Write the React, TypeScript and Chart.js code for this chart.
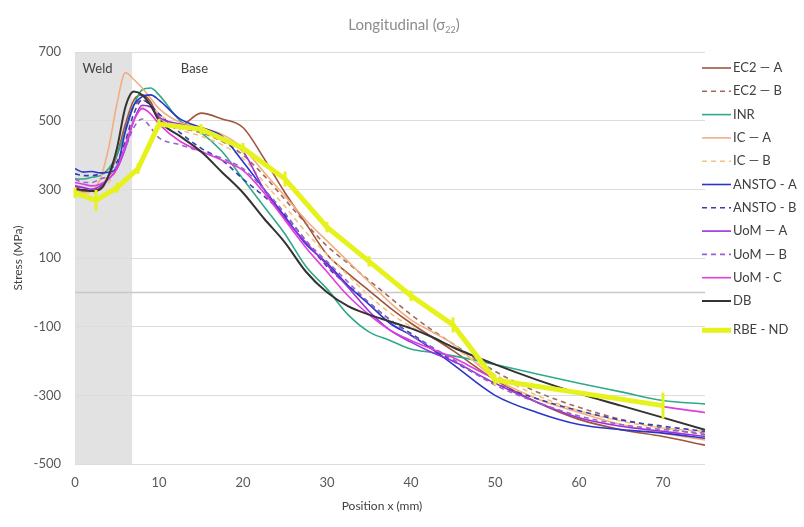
import { useEffect, useRef } from "react";
import { Chart, registerables } from "chart.js";

Chart.register(...registerables);

// Shared sampling positions (mm) for the model/measurement curves
const positions = [0, 1, 2, 3, 4, 5, 6, 7, 8, 9, 10, 12.5, 15, 17.5, 20, 22.5, 25, 27.5, 30, 32.5, 35, 37.5, 40, 42.5, 45, 50, 55, 60, 65, 70, 75];

// Longitudinal stress (MPa) at each position
const ec2A = [310, 292, 295, 305, 340, 400, 490, 560, 575, 555, 505, 485, 522, 505, 480, 390, 290, 200, 110, 55, 5, -45, -90, -130, -170, -255, -320, -370, -400, -420, -445];
const ec2B = [310, 300, 300, 310, 340, 400, 480, 540, 560, 545, 515, 480, 465, 440, 400, 340, 270, 200, 135, 85, 35, -15, -65, -110, -150, -230, -290, -335, -370, -395, -415];
const inr = [330, 330, 335, 340, 360, 400, 470, 545, 590, 595, 575, 500, 465, 410, 330, 250, 170, 75, 10, -65, -115, -140, -165, -175, -185, -210, -238, -265, -290, -315, -325];
const icA = [300, 290, 295, 330, 420, 550, 640, 620, 595, 565, 535, 495, 480, 460, 420, 350, 280, 210, 150, 90, 30, -30, -80, -115, -150, -250, -310, -350, -385, -410, -430];
const icB = [295, 290, 290, 300, 320, 360, 430, 500, 540, 540, 520, 475, 455, 430, 390, 320, 250, 175, 110, 50, -10, -60, -100, -130, -160, -240, -300, -345, -375, -395, -405];
const anstoA = [360, 350, 352, 348, 350, 365, 470, 545, 570, 575, 560, 505, 480, 455, 380, 300, 220, 140, 85, 20, -35, -90, -125, -165, -210, -300, -350, -385, -400, -410, -425];
const anstoB = [345, 340, 340, 345, 355, 380, 440, 520, 560, 545, 520, 465, 420, 385, 330, 280, 225, 150, 75, 20, -30, -80, -120, -160, -200, -265, -310, -345, -372, -390, -405];
const uomA = [310, 305, 300, 310, 330, 360, 420, 500, 545, 540, 510, 490, 475, 450, 410, 300, 215, 145, 80, 15, -55, -110, -145, -175, -200, -265, -320, -365, -390, -405, -420];
const uomB = [330, 320, 320, 330, 340, 370, 420, 480, 505, 480, 450, 430, 410, 390, 360, 300, 230, 150, 90, 30, -30, -80, -125, -160, -195, -270, -320, -360, -385, -400, -410];
const uomC = [320, 315, 310, 315, 330, 360, 430, 500, 535, 520, 490, 440, 410, 385, 355, 290, 210, 130, 60, -10, -65, -110, -140, -165, -190, -250, -272, -290, -310, -333, -350];
const db = [300, 298, 295, 300, 340, 420, 540, 585, 575, 545, 500, 455, 410, 350, 290, 215, 145, 60, 0, -40, -65, -85, -105, -130, -160, -210, -255, -295, -330, -365, -400];

// RBE - ND measured points with their uncertainty (MPa)
const rbePositions = [0, 2.5, 5, 7.5, 10, 15, 20, 25, 30, 35, 40, 45, 50, 70];
const rbeValues = [290, 268, 305, 360, 490, 475, 420, 330, 190, 90, -10, -95, -255, -330];
const rbeErrors = [15, 30, 15, 15, 15, 15, 15, 22, 15, 15, 15, 22, 15, 38];

const seriesLabels = ["EC2 — A", "EC2 — B", "INR", "IC — A", "IC — B", "ANSTO - A", "ANSTO - B", "UoM — A", "UoM — B", "UoM - C", "DB", "RBE - ND"];
const seriesValues = [ec2A, ec2B, inr, icA, icB, anstoA, anstoB, uomA, uomB, uomC, db];

const yTicks = [-500, -300, -100, 100, 300, 500, 700];
const xTicks = [0, 10, 20, 30, 40, 50, 60, 70];
const weldEnd = 6.8;

// Line styles for each series, in the same order as seriesLabels
const seriesStyles = [
  { color: "#A0533F", dash: [], width: 1.6 },
  { color: "#A06A5C", dash: [5, 4], width: 1.6 },
  { color: "#2EAA8A", dash: [], width: 1.6 },
  { color: "#F2AE82", dash: [], width: 1.6 },
  { color: "#F5C27E", dash: [5, 4], width: 1.6 },
  { color: "#2B35C8", dash: [], width: 1.6 },
  { color: "#3A3FA8", dash: [5, 4], width: 1.6 },
  { color: "#9B30E0", dash: [], width: 1.6 },
  { color: "#9A62CC", dash: [5, 4], width: 1.6 },
  { color: "#E03CE0", dash: [], width: 1.6 },
  { color: "#333333", dash: [], width: 2 },
  { color: "#E6F21C", dash: [], width: 5 },
];

const FONT = 'Lato, "Open Sans", "Liberation Sans", sans-serif';
const TEXT = "#595959";

const decor = {
  id: "decor",
  beforeDraw(chart: any) {
    const { ctx, chartArea, scales } = chart;
    ctx.save();
    ctx.fillStyle = "#ffffff";
    ctx.fillRect(0, 0, chart.width, chart.height);
    const x0 = scales.x.getPixelForValue(0);
    const x1 = scales.x.getPixelForValue(weldEnd);
    ctx.fillStyle = "#E2E2E2";
    ctx.fillRect(x0, chartArea.top, x1 - x0, chartArea.bottom - chartArea.top);
    ctx.restore();
  },
  beforeDatasetsDraw(chart: any) {
    const { ctx, chartArea, scales } = chart;
    ctx.save();
    const y0 = Math.round(scales.y.getPixelForValue(0)) + 0.5;
    ctx.strokeStyle = "#C8C8C8";
    ctx.lineWidth = 1.3;
    ctx.beginPath();
    ctx.moveTo(chartArea.left, y0);
    ctx.lineTo(chartArea.right, y0);
    ctx.stroke();

    ctx.fillStyle = "#404040";
    ctx.font = `13px ${FONT}`;
    ctx.textBaseline = "middle";
    ctx.textAlign = "left";
    ctx.fillText("Weld", scales.x.getPixelForValue(0.9), chartArea.top + 17);
    ctx.fillText("Base", scales.x.getPixelForValue(12.6), chartArea.top + 17);
    ctx.restore();
  },
  afterDatasetsDraw(chart: any) {
    const { ctx, chartArea, scales } = chart;
    ctx.save();

    // error bars on the RBE - ND points
    ctx.strokeStyle = seriesStyles[11].color;
    ctx.lineWidth = 3;
    rbePositions.forEach((p, i) => {
      const x = scales.x.getPixelForValue(p);
      const ya = scales.y.getPixelForValue(rbeValues[i] + rbeErrors[i]);
      const yb = scales.y.getPixelForValue(rbeValues[i] - rbeErrors[i]);
      ctx.beginPath();
      ctx.moveTo(x, ya);
      ctx.lineTo(x, yb);
      ctx.stroke();
    });

    // legend
    ctx.font = `13px ${FONT}`;
    ctx.textBaseline = "middle";
    ctx.textAlign = "left";
    seriesLabels.forEach((label, i) => {
      const st = seriesStyles[i];
      const y = 68 + i * 23.3 + (i === 11 ? 6 : 0);
      ctx.strokeStyle = st.color;
      ctx.lineWidth = st.width;
      ctx.setLineDash(st.dash);
      ctx.beginPath();
      ctx.moveTo(702, y);
      ctx.lineTo(731, y);
      ctx.stroke();
      ctx.setLineDash([]);
      ctx.fillStyle = "#404040";
      ctx.fillText(label, 733, y);
    });

    // title with subscript
    const main = "Longitudinal (σ";
    const sub = "22";
    const close = ")";
    ctx.fillStyle = "#8C8C8C";
    ctx.font = `15px ${FONT}`;
    const wMain = ctx.measureText(main).width;
    const wClose = ctx.measureText(close).width;
    ctx.font = `9px ${FONT}`;
    const wSub = ctx.measureText(sub).width;
    let tx = 404 - (wMain + wSub + wClose) / 2;
    const ty = 25;
    ctx.font = `15px ${FONT}`;
    ctx.fillText(main, tx, ty);
    tx += wMain;
    ctx.font = `9px ${FONT}`;
    ctx.fillText(sub, tx, ty + 5);
    tx += wSub;
    ctx.font = `15px ${FONT}`;
    ctx.fillText(close, tx, ty);

    // axis titles
    ctx.fillStyle = "#404040";
    ctx.font = `12px ${FONT}`;
    ctx.textAlign = "center";
    ctx.fillText("Position x (mm)", 382, 506);
    ctx.translate(18, (chartArea.top + chartArea.bottom) / 2);
    ctx.rotate(-Math.PI / 2);
    ctx.fillText("Stress (MPa)", 0, 0);
    ctx.restore();
  },
};

export default function App() {
  const ref = useRef<HTMLCanvasElement | null>(null);

  useEffect(() => {
    document.body.style.margin = "0";
    const canvas = ref.current;
    if (!canvas) return;

    const datasets: any[] = seriesValues.map((vals, i) => ({
      label: seriesLabels[i],
      data: positions.map((p, k) => ({ x: p, y: vals[k] })),
      borderColor: seriesStyles[i].color,
      borderWidth: seriesStyles[i].width,
      borderDash: seriesStyles[i].dash,
      pointRadius: 0,
      fill: false,
      cubicInterpolationMode: "monotone",
      order: seriesLabels.length - i,
    }));
    datasets.push({
      label: seriesLabels[11],
      data: rbePositions.map((p, k) => ({ x: p, y: rbeValues[k] })),
      borderColor: seriesStyles[11].color,
      borderWidth: seriesStyles[11].width,
      pointRadius: 0,
      fill: false,
      tension: 0,
      order: 0,
    });

    const chart = new Chart(canvas, {
      type: "line",
      data: { datasets },
      options: {
        animation: false,
        responsive: false,
        devicePixelRatio: 1,
        layout: { padding: { left: 0, top: 52, right: 99, bottom: 0 } },
        plugins: { legend: { display: false }, tooltip: { enabled: false }, title: { display: false } },
        scales: {
          x: {
            type: "linear",
            min: 0,
            max: 75,
            afterBuildTicks: (s: any) => {
              s.ticks = xTicks.map((v) => ({ value: v }));
            },
            afterFit: (s: any) => {
              s.height = 63;
            },
            grid: { display: false, drawTicks: false },
            border: { display: false },
            ticks: { color: TEXT, font: { family: FONT, size: 13 }, padding: 11, maxRotation: 0 },
          },
          y: {
            type: "linear",
            min: -500,
            max: 700,
            afterBuildTicks: (s: any) => {
              s.ticks = yTicks.map((v) => ({ value: v }));
            },
            afterFit: (s: any) => {
              s.width = 75;
            },
            grid: { color: "#DCDCDC", drawTicks: false, lineWidth: 1 },
            border: { display: false },
            ticks: { color: TEXT, font: { family: FONT, size: 13 }, padding: 14 },
          },
        },
      },
      plugins: [decor],
    });

    return () => chart.destroy();
  }, []);

  return (
    <div style={{ width: 804, height: 527 }}>
      <canvas ref={ref} width={804} height={527} style={{ display: "block" }} />
    </div>
  );
}
